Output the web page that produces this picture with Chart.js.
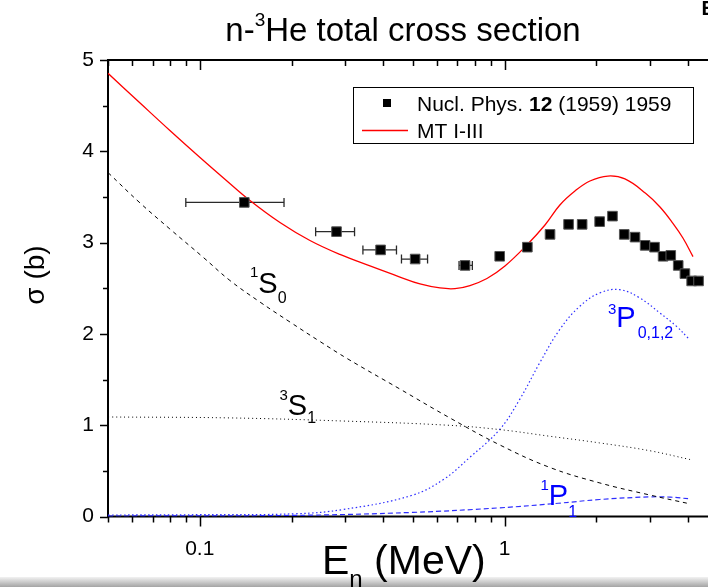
<!DOCTYPE html>
<html>
<head>
<meta charset="utf-8">
<title>n-3He total cross section</title>
<script src="https://cdn.jsdelivr.net/npm/chart.js@4/dist/chart.umd.min.js"></script>
<style>
    html, body { margin: 0; padding: 0; background: #fff; overflow: hidden; }
    #wrap { position: relative; width: 708px; height: 587px; overflow: hidden; }
    #bar { position: absolute; left: 0; top: 577px; width: 708px; height: 10px; background: linear-gradient(#f2f2f2, #a4a4a4); }
    #chart { position: absolute; left: 0; top: 0; }
</style>
</head>
<body>
<div id="wrap">
    <div id="bar"></div>
    <canvas id="chart" width="740" height="587" style="width:740px;height:587px"></canvas>
</div>
<script>
const FONT = '"Liberation Sans", Arial, sans-serif';

// measured total cross section (Nucl. Phys. 12)
const expEnergy = [0.140, 0.281, 0.392, 0.509, 0.742, 0.964, 1.188, 1.410, 1.622, 1.797, 2.051,
    2.260, 2.470, 2.680, 2.892, 3.105, 3.312, 3.510, 3.713, 3.906, 4.110, 4.330];
const expSigma = [3.44, 3.12, 2.92, 2.82, 2.75, 2.85, 2.95, 3.09, 3.20, 3.20, 3.23,
    3.29, 3.09, 3.06, 2.97, 2.95, 2.85, 2.86, 2.75, 2.66, 2.58, 2.58];
// energy spread of the first points
const expEnergyLow = [0.090, 0.240, 0.343, 0.459, 0.709];
const expEnergyHigh = [0.189, 0.322, 0.442, 0.559, 0.784];

// MT I-III calculation
const mtEnergy = [0.05, 0.0637, 0.0798, 0.1002, 0.1228, 0.1461, 0.1833, 0.2299, 0.2884, 0.3618,
    0.4537, 0.5279, 0.6139, 0.6876, 0.770, 0.8756, 1.003, 1.184, 1.357, 1.519, 1.702, 1.906,
    2.184, 2.483, 2.902, 3.235, 3.568, 3.848, 4.152];
const mtSigma = [4.854, 4.529, 4.228, 3.932, 3.675, 3.461, 3.220, 3.023, 2.870, 2.744,
    2.623, 2.547, 2.503, 2.496, 2.530, 2.607, 2.744, 2.974, 3.193, 3.412, 3.565, 3.675,
    3.729, 3.697, 3.540, 3.390, 3.211, 3.050, 2.846];

// partial waves
const s0Energy = [0.05, 0.0637, 0.0798, 0.1024, 0.1256, 0.1576, 0.1977, 0.2479, 0.3063, 0.4537,
    0.6621, 0.9658, 1.409, 2.056, 2.999, 4.076];
const s0Sigma = [3.767, 3.434, 3.149, 2.842, 2.585, 2.349, 2.130, 1.917, 1.725, 1.396,
    1.079, 0.783, 0.537, 0.367, 0.235, 0.137];

const s1Energy = [0.05, 0.125, 0.30, 0.65, 0.963, 1.40, 2.05, 3.00, 4.06];
const s1Sigma = [1.09, 1.08, 1.045, 1.00, 0.952, 0.88, 0.806, 0.72, 0.624];

const p3Energy = [0.05, 0.10, 0.206, 0.296, 0.495, 0.630, 0.768, 0.963, 1.120, 1.304, 1.516,
    1.764, 2.053, 2.389, 2.779, 3.233, 3.667, 4.00];
const p3Sigma = [0.016, 0.02, 0.03, 0.077, 0.23, 0.405, 0.646, 0.952, 1.28, 1.682, 2.046,
    2.301, 2.448, 2.484, 2.393, 2.229, 2.082, 1.955];

const p1Energy = [0.05, 0.20, 0.50, 0.963, 1.50, 2.05, 3.00, 3.50, 4.00];
const p1Sigma = [0.005, 0.012, 0.045, 0.095, 0.145, 0.186, 0.215, 0.212, 0.195];

// axis ticks
const xTickValues = [0.05, 0.06, 0.07, 0.08, 0.09, 0.1, 0.2, 0.3, 0.4, 0.5, 0.6, 0.7, 0.8, 0.9,
    1, 2, 3, 4, 5];
const xLabelValues = [0.1, 1];
const yTickValues = [0, 1, 2, 3, 4, 5];
const yMinorValues = [0.5, 1.5, 2.5, 3.5, 4.5];

function points(xs, ys) {
    return xs.map((v, i) => ({x: v, y: ys[i]}));
}

function curve(xs, ys, color, dash, width) {
    return {
        data: points(xs, ys),
        showLine: true,
        borderColor: color,
        borderWidth: width || 1,
        borderDash: dash,
        pointRadius: 0,
        cubicInterpolationMode: 'default',
        tension: 0.4
    };
}

// text runs with super/subscripts
function drawRuns(ctx, x, y, runs, color) {
    ctx.fillStyle = color;
    ctx.textAlign = 'left';
    ctx.textBaseline = 'alphabetic';
    runs.forEach(r => {
        ctx.font = (r.bold ? 'bold ' : '') + r.size + 'px ' + FONT;
        ctx.fillText(r.text, x + (r.dx || 0), y + (r.dy || 0));
        x += ctx.measureText(r.text).width + (r.dx || 0);
    });
}

function runsWidth(ctx, runs) {
    let w = 0;
    runs.forEach(r => {
        ctx.font = (r.bold ? 'bold ' : '') + r.size + 'px ' + FONT;
        w += ctx.measureText(r.text).width + (r.dx || 0);
    });
    return w;
}

const frame = {
    id: 'frame',
    beforeDatasetsDraw(chart) {
        const {ctx, chartArea: a, scales: {x, y}} = chart;
        ctx.save();
        ctx.strokeStyle = '#000';
        ctx.lineWidth = 2;
        ctx.strokeRect(a.left, a.top, a.right - a.left, a.bottom - a.top);

        ctx.lineWidth = 1.5;
        ctx.beginPath();
        xTickValues.forEach(v => {
            const px = Math.round(x.getPixelForValue(v)) + 0.5;
            const len = xLabelValues.includes(v) ? 10 : 6;
            ctx.moveTo(px, a.bottom);
            ctx.lineTo(px, a.bottom + len);
            ctx.moveTo(px, a.top);
            ctx.lineTo(px, a.top + len);
        });
        yTickValues.forEach(v => {
            const py = Math.round(y.getPixelForValue(v)) + 0.5;
            ctx.moveTo(a.left, py);
            ctx.lineTo(a.left - 8, py);
        });
        yMinorValues.forEach(v => {
            const py = Math.round(y.getPixelForValue(v)) + 0.5;
            ctx.moveTo(a.left, py);
            ctx.lineTo(a.left - 5, py);
        });
        ctx.stroke();
        ctx.restore();
    }
};

const errorBars = {
    id: 'errorBars',
    beforeDatasetsDraw(chart) {
        const {ctx, scales: {x, y}} = chart;
        ctx.save();
        ctx.strokeStyle = '#2a2a2a';
        ctx.lineWidth = 1.3;
        ctx.beginPath();
        expEnergyLow.forEach((lo, i) => {
            const py = y.getPixelForValue(expSigma[i]);
            const x0 = x.getPixelForValue(lo);
            const x1 = x.getPixelForValue(expEnergyHigh[i]);
            ctx.moveTo(x0, py);
            ctx.lineTo(x1, py);
            ctx.moveTo(x0, py - 4.5);
            ctx.lineTo(x0, py + 4.5);
            ctx.moveTo(x1, py - 4.5);
            ctx.lineTo(x1, py + 4.5);
        });
        ctx.stroke();
        ctx.restore();
    }
};

const labels = {
    id: 'labels',
    afterDraw(chart) {
        const ctx = chart.ctx;
        ctx.save();

        // title
        const title = [
            {text: 'n-', size: 33},
            {text: '3', size: 19, dy: -15},
            {text: 'He total cross section', size: 33}
        ];
        drawRuns(ctx, 403 - runsWidth(ctx, title) / 2, 41, title, '#000');

        // axis titles
        drawRuns(ctx, 322, 574, [
            {text: 'E', size: 41},
            {text: 'n', size: 24, dy: 13},
            {text: ' (MeV)', size: 41}
        ], '#000');

        ctx.save();
        ctx.translate(44, 275);
        ctx.rotate(-Math.PI / 2);
        ctx.font = '28px ' + FONT;
        ctx.textAlign = 'center';
        ctx.fillStyle = '#000';
        ctx.fillText('\u03c3 (b)', 0, 0);
        ctx.restore();

        // partial wave names
        drawRuns(ctx, 250, 293, [
            {text: '1', size: 15, dy: -16},
            {text: 'S', size: 29},
            {text: '0', size: 16, dy: 10}
        ], '#000');
        drawRuns(ctx, 279.5, 415, [
            {text: '3', size: 15, dy: -15},
            {text: 'S', size: 29},
            {text: '1', size: 16, dy: 8}
        ], '#000');
        drawRuns(ctx, 608, 327, [
            {text: '3', size: 15, dy: -13},
            {text: 'P', size: 29},
            {text: '0,1,2', size: 16, dy: 11, dx: 2}
        ], '#0000ff');
        drawRuns(ctx, 540.5, 505, [
            {text: '1', size: 15, dy: -15},
            {text: 'P', size: 29},
            {text: '1', size: 16, dy: 12}
        ], '#0000ff');

        // legend
        ctx.fillStyle = '#fff';
        ctx.fillRect(353.5, 87.5, 340, 56);
        ctx.strokeStyle = '#000';
        ctx.lineWidth = 1;
        ctx.strokeRect(353.5, 87.5, 340, 56);
        ctx.fillStyle = '#000';
        ctx.fillRect(383, 99, 8, 8);
        drawRuns(ctx, 417, 111, [
            {text: 'Nucl. Phys. ', size: 21},
            {text: '12', size: 21, bold: true},
            {text: ' (1959) 1959', size: 21}
        ], '#000');
        ctx.strokeStyle = '#ff0000';
        ctx.lineWidth = 1.3;
        ctx.beginPath();
        ctx.moveTo(362, 130.5);
        ctx.lineTo(408, 130.5);
        ctx.stroke();
        drawRuns(ctx, 417, 138, [{text: 'MT I-III', size: 21}], '#000');

        // panel letter at the corner
        drawRuns(ctx, 701.5, 15, [{text: 'B', size: 20, bold: true}], '#000');

        ctx.restore();
    }
};

new Chart(document.getElementById('chart'), {
    type: 'scatter',
    data: {
        datasets: [
            {
                data: points(expEnergy, expSigma),
                pointStyle: 'rect',
                pointRadius: 6.8,
                backgroundColor: '#000',
                borderColor: '#555',
                borderWidth: 1
            },
            curve(mtEnergy, mtSigma, '#ff0000', [], 1.3),
            curve(s0Energy, s0Sigma, '#000', [4, 4]),
            curve(s1Energy, s1Sigma, '#000', [1, 3]),
            curve(p3Energy, p3Sigma, 'rgb(45,45,255)', [1.5, 2.5], 1.2),
            curve(p1Energy, p1Sigma, 'rgb(45,45,255)', [5, 3], 1.2)
        ]
    },
    options: {
        responsive: false,
        animation: false,
        devicePixelRatio: 1,
        layout: {
            padding: {top: 60, right: 22.4, left: 0, bottom: 0}
        },
        scales: {
            x: {
                type: 'logarithmic',
                min: 0.05,
                max: 5,
                grid: {display: false, drawTicks: false},
                border: {display: false},
                afterBuildTicks: scale => {
                    scale.ticks = xTickValues.map(v => ({value: v}));
                },
                afterFit: scale => {
                    scale.height = 70.5;
                },
                ticks: {
                    autoSkip: false,
                    maxRotation: 0,
                    padding: 20,
                    color: '#000',
                    font: {family: FONT, size: 21},
                    callback: v => xLabelValues.includes(v) ? String(v) : ''
                }
            },
            y: {
                min: 0,
                max: 5,
                grid: {display: false, drawTicks: false},
                border: {display: false},
                afterBuildTicks: scale => {
                    scale.ticks = yTickValues.map(v => ({value: v}));
                },
                afterFit: scale => {
                    scale.width = 108;
                },
                ticks: {
                    padding: 14,
                    color: '#000',
                    font: {family: FONT, size: 21}
                }
            }
        },
        plugins: {
            legend: {display: false},
            tooltip: {enabled: false}
        }
    },
    plugins: [frame, errorBars, labels]
});
</script>
</body>
</html>
